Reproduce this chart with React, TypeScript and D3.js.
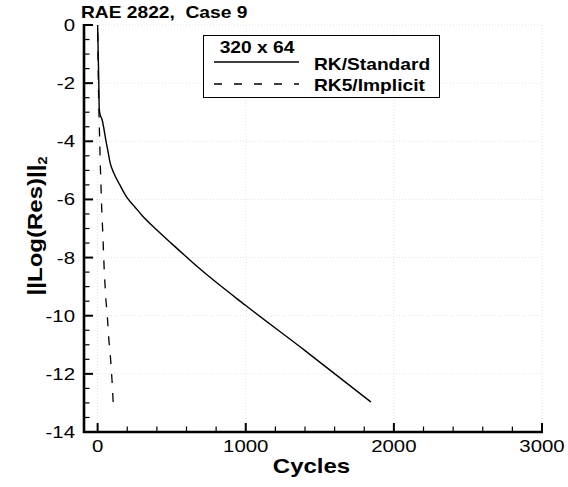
import React from "react";
import * as d3 from "d3";

const W = 568;
const H = 487;

// RK/Standard convergence history (cycles, log residual)
const rkCycles = [0, 4, 8, 11, 18, 30, 40, 55, 70, 85, 110, 150, 200, 250, 300, 400, 500, 700, 1000, 1400, 1845];
const rkValues = [0, -1, -2, -2.9, -3.1, -3.25, -3.5, -3.95, -4.35, -4.75, -5.1, -5.5, -5.95, -6.25, -6.55, -7.05, -7.52, -8.43, -9.65, -11.2, -12.97];

// RK5/Implicit convergence history
const impCycles = [0, 5, 10, 18, 27, 34, 45, 56, 65, 76, 88, 97, 105];
const impValues = [0, -2, -3.2, -4.8, -6.25, -7.05, -8.5, -9.46, -9.98, -10.84, -11.52, -12.21, -12.97];

const xMajor = [0, 1000, 2000, 3000];
const xMinor = [200, 400, 600, 800, 1200, 1400, 1600, 1800, 2200, 2400, 2600, 2800];
const yMajor = [0, -2, -4, -6, -8, -10, -12, -14];

const title = "RAE 2822,\u00a0\u00a0Case 9";
const legendTitle = "320 x 64";
const seriesNames = ["RK/Standard", "RK5/Implicit"];
const xTitle = "Cycles";

const FONT = "'Liberation Sans', Arial, Helvetica, sans-serif";
const SX = 1.2;

function T(props: {
  x: number; y: number; size: number; bold?: boolean; anchor?: string; rotate?: number; children: React.ReactNode;
}) {
  const { x, y, size, bold, anchor = "start", rotate = 0, children } = props;
  return (
    <g transform={`translate(${x},${y}) rotate(${rotate}) scale(${SX},1)`}>
      <text
        textAnchor={anchor as any}
        fontFamily={FONT}
        fontSize={size}
        fontWeight={bold ? "bold" : "normal"}
        fill="#000"
      >
        {children}
      </text>
    </g>
  );
}

export default function App() {
  const x = d3.scaleLinear().domain([-92, 3000]).range([84, 542]);
  const y = d3.scaleLinear().domain([-14, 0]).range([432, 25]);

  const yMinor: number[] = d3.range(-13.5, 0.01, 0.5).filter((v) => Math.abs(v % 2) > 0.01);

  const rk = rkCycles.map((c, i) => [c, rkValues[i]] as [number, number]);
  const imp = impCycles.map((c, i) => [c, impValues[i]] as [number, number]).reverse();
  const line = d3
    .line<[number, number]>()
    .x((d) => x(d[0]))
    .y((d) => y(d[1]))
    .curve(d3.curveLinear);
  const smooth = d3
    .line<[number, number]>()
    .x((d) => x(d[0]))
    .y((d) => y(d[1]))
    .curve(d3.curveMonotoneX);

  const x0 = x(-92);
  const y0 = y(-14);

  return (
    <svg
      width={W}
      height={H}
      style={{ position: "absolute", left: 0, top: 0, background: "#fff" }}
    >
      <rect x={0} y={0} width={W} height={H} fill="#fff" />
      {/* grid */}
      {yMajor.filter((v) => v > -14).map((v) => (
        <line key={"gy" + v} x1={x0} x2={x(3000)} y1={y(v)} y2={y(v)} stroke="#e2e2e2" strokeWidth={1} strokeDasharray="1 2" />
      ))}
      {xMajor.map((v) => (
        <line key={"gx" + v} x1={x(v)} x2={x(v)} y1={y(0)} y2={y0} stroke="#e2e2e2" strokeWidth={1} strokeDasharray="1 2" />
      ))}

      {/* curves */}
      <path d={line(imp) || ""} fill="none" stroke="#000" strokeWidth={1.3} strokeDasharray="9 10" />
      <path d={smooth(rk) || ""} fill="none" stroke="#000" strokeWidth={1.4} />

      {/* axes */}
      <line x1={x0} x2={x0} y1={y(0) - 1} y2={y0 + 1} stroke="#000" strokeWidth={2.6} />
      <line x1={x0 - 1} x2={x(3000) + 1} y1={y0} y2={y0} stroke="#000" strokeWidth={2.6} />
      {yMajor.map((v) => (
        <line key={"ty" + v} x1={x0} x2={x0 + 9} y1={y(v)} y2={y(v)} stroke="#000" strokeWidth={2} />
      ))}
      {yMinor.map((v) => (
        <line key={"tym" + v} x1={x0} x2={x0 + 5.5} y1={y(v)} y2={y(v)} stroke="#000" strokeWidth={1.2} />
      ))}
      {xMajor.map((v) => (
        <line key={"tx" + v} x1={x(v)} x2={x(v)} y1={y0} y2={y0 - 9} stroke="#000" strokeWidth={2} />
      ))}
      {xMinor.map((v) => (
        <line key={"txm" + v} x1={x(v)} x2={x(v)} y1={y0} y2={y0 - 5.5} stroke="#000" strokeWidth={1.2} />
      ))}

      {/* tick labels */}
      {yMajor.map((v) => (
        <T key={"ly" + v} x={75} y={y(v) + 6} size={17} anchor="end">
          {String(v)}
        </T>
      ))}
      {xMajor.map((v) => (
        <T key={"lx" + v} x={x(v)} y={452} size={17} anchor="middle">
          {String(v)}
        </T>
      ))}

      {/* titles */}
      <T x={81} y={18} size={16} bold>
        {title}
      </T>
      <T x={311.5} y={473} size={20} bold anchor="middle">
        {xTitle}
      </T>
      <g transform={`translate(42,226) rotate(-90) scale(${SX},1)`}>
        <text textAnchor="middle" fontFamily={FONT} fontSize={20} fontWeight="bold">
          ||Log(Res)||
          <tspan fontSize={12} dy={5}>2</tspan>
        </text>
      </g>

      {/* legend */}
      <rect x={203.5} y={35.5} width={236} height={62} fill="#fff" stroke="#000" strokeWidth={1} />
      <T x={257} y={53} size={16} bold anchor="middle">
        {legendTitle}
      </T>
      <line x1={214} x2={299} y1={62} y2={62} stroke="#000" strokeWidth={1.3} />
      <line x1={214} x2={299} y1={84} y2={84} stroke="#000" strokeWidth={1.3} strokeDasharray="8 12" />
      <T x={314} y={70} size={16} bold>
        {seriesNames[0]}
      </T>
      <T x={314} y={91} size={16} bold>
        {seriesNames[1]}
      </T>
    </svg>
  );
}
